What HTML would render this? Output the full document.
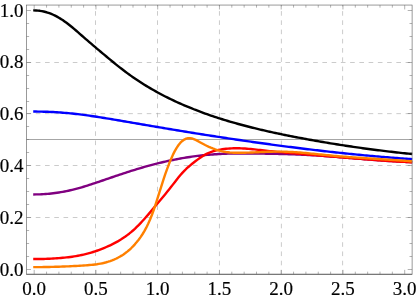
<!DOCTYPE html>
<html><head><meta charset="utf-8"><title>plot</title>
<style>
html,body{margin:0;padding:0;background:#fff;}
body{width:416px;height:299px;overflow:hidden;}
svg{display:block;position:absolute;left:0;top:0;will-change:transform;}
text{font-family:"Liberation Serif",serif;font-size:19.5px;fill:#000;stroke:#000;stroke-width:0.18px;}
</style></head><body>
<svg width="416" height="299" viewBox="0 0 416 299">
<rect width="416" height="299" fill="#ffffff"/>
<line x1="95.5" y1="5.05" x2="95.5" y2="274.27" stroke="#a8a8a8" stroke-width="0.6" stroke-dasharray="4.6225 4.6225" stroke-dashoffset="3.2"/>
<line x1="157.5" y1="5.05" x2="157.5" y2="274.27" stroke="#a8a8a8" stroke-width="0.6" stroke-dasharray="4.6225 4.6225" stroke-dashoffset="3.2"/>
<line x1="219.45" y1="5.05" x2="219.45" y2="274.27" stroke="#a8a8a8" stroke-width="0.6" stroke-dasharray="4.6225 4.6225" stroke-dashoffset="3.2"/>
<line x1="281.4" y1="5.05" x2="281.4" y2="274.27" stroke="#a8a8a8" stroke-width="0.6" stroke-dasharray="4.6225 4.6225" stroke-dashoffset="3.2"/>
<line x1="342.6" y1="5.05" x2="342.6" y2="274.27" stroke="#a8a8a8" stroke-width="0.6" stroke-dasharray="4.6225 4.6225" stroke-dashoffset="3.2"/>
<line x1="26.55" y1="217.5" x2="412.1" y2="217.5" stroke="#a8a8a8" stroke-width="0.6" stroke-dasharray="4.6225 4.6225"/>
<line x1="26.55" y1="165.5" x2="412.1" y2="165.5" stroke="#a8a8a8" stroke-width="0.6" stroke-dasharray="4.6225 4.6225"/>
<line x1="26.55" y1="113.65" x2="412.1" y2="113.65" stroke="#a8a8a8" stroke-width="0.6" stroke-dasharray="4.6225 4.6225"/>
<line x1="26.55" y1="62.5" x2="412.1" y2="62.5" stroke="#a8a8a8" stroke-width="0.6" stroke-dasharray="4.6225 4.6225"/>
<line x1="26.55" y1="139.5" x2="412.1" y2="139.5" stroke="#808080" stroke-width="0.7"/>
<path d="M33.21,10.42 L36.10,10.46 L38.00,10.59 L39.90,10.81 L41.80,11.12 L43.70,11.51 L45.60,11.99 L47.50,12.55 L49.40,13.21 L51.30,13.95 L53.19,14.77 L55.09,15.68 L56.99,16.67 L58.89,17.74 L60.79,18.89 L62.69,20.11 L64.59,21.42 L66.49,22.79 L68.39,24.24 L70.29,25.74 L72.19,27.29 L74.09,28.88 L75.99,30.50 L77.89,32.15 L79.79,33.81 L81.69,35.48 L83.59,37.15 L85.49,38.80 L87.39,40.45 L89.28,42.08 L91.18,43.71 L93.08,45.33 L94.98,46.94 L96.88,48.55 L98.78,50.15 L100.68,51.74 L102.58,53.34 L104.48,54.93 L106.38,56.52 L108.28,58.09 L110.18,59.67 L112.08,61.23 L113.98,62.78 L115.88,64.31 L117.78,65.83 L119.68,67.33 L121.58,68.81 L123.48,70.27 L125.38,71.71 L127.27,73.12 L129.17,74.51 L131.07,75.86 L132.97,77.20 L134.87,78.51 L136.77,79.79 L138.67,81.05 L140.57,82.29 L142.47,83.50 L144.37,84.69 L146.27,85.86 L148.17,87.01 L150.07,88.14 L151.97,89.24 L153.87,90.33 L155.77,91.40 L157.67,92.45 L159.57,93.48 L161.47,94.49 L163.36,95.48 L165.26,96.46 L167.16,97.42 L169.06,98.36 L170.96,99.29 L172.86,100.20 L174.76,101.09 L176.66,101.97 L178.56,102.83 L180.46,103.68 L182.36,104.52 L184.26,105.34 L186.16,106.14 L188.06,106.94 L189.96,107.72 L191.86,108.48 L193.76,109.24 L195.66,109.98 L197.56,110.71 L199.45,111.43 L201.35,112.13 L203.25,112.83 L205.15,113.51 L207.05,114.19 L208.95,114.85 L210.85,115.51 L212.75,116.15 L214.65,116.79 L216.55,117.41 L218.45,118.03 L220.35,118.64 L222.25,119.23 L224.15,119.82 L226.05,120.41 L227.95,120.98 L229.85,121.54 L231.75,122.10 L233.65,122.65 L235.54,123.19 L237.44,123.72 L239.34,124.24 L241.24,124.76 L243.14,125.27 L245.04,125.77 L246.94,126.27 L248.84,126.76 L250.74,127.24 L252.64,127.72 L254.54,128.18 L256.44,128.65 L258.34,129.10 L260.24,129.56 L262.14,130.00 L264.04,130.44 L265.94,130.88 L267.84,131.30 L269.74,131.73 L271.63,132.15 L273.53,132.56 L275.43,132.97 L277.33,133.38 L279.23,133.78 L281.13,134.17 L283.03,134.56 L284.93,134.95 L286.83,135.34 L288.73,135.72 L290.63,136.10 L292.53,136.47 L294.43,136.84 L296.33,137.21 L298.23,137.57 L300.13,137.93 L302.03,138.29 L303.93,138.65 L305.83,139.00 L307.73,139.35 L309.62,139.70 L311.52,140.04 L313.42,140.38 L315.32,140.72 L317.22,141.05 L319.12,141.38 L321.02,141.71 L322.92,142.04 L324.82,142.36 L326.72,142.68 L328.62,143.00 L330.52,143.31 L332.42,143.62 L334.32,143.93 L336.22,144.23 L338.12,144.53 L340.02,144.83 L341.92,145.13 L343.82,145.42 L345.71,145.71 L347.61,146.00 L349.51,146.28 L351.41,146.56 L353.31,146.84 L355.21,147.12 L357.11,147.39 L359.01,147.66 L360.91,147.92 L362.81,148.19 L364.71,148.45 L366.61,148.71 L368.51,148.96 L370.41,149.21 L372.31,149.46 L374.21,149.71 L376.11,149.95 L378.01,150.19 L379.91,150.43 L381.80,150.67 L383.70,150.90 L385.60,151.13 L387.50,151.36 L389.40,151.58 L391.30,151.80 L393.20,152.02 L395.10,152.23 L397.00,152.45 L398.90,152.66 L400.80,152.86 L402.70,153.07 L404.60,153.27 L406.50,153.47 L408.40,153.67 L410.30,153.86 L412.20,154.05" fill="none" stroke="#000000" stroke-width="2.4" stroke-linejoin="round"/>
<path d="M33.21,111.57 L36.10,111.57 L38.00,111.59 L39.90,111.61 L41.80,111.65 L43.70,111.69 L45.60,111.75 L47.50,111.81 L49.40,111.89 L51.30,111.97 L53.19,112.06 L55.09,112.17 L56.99,112.28 L58.89,112.40 L60.79,112.54 L62.69,112.68 L64.59,112.83 L66.49,113.00 L68.39,113.17 L70.29,113.35 L72.19,113.55 L74.09,113.75 L75.99,113.96 L77.89,114.18 L79.79,114.41 L81.69,114.65 L83.59,114.89 L85.49,115.14 L87.39,115.40 L89.28,115.67 L91.18,115.94 L93.08,116.22 L94.98,116.51 L96.88,116.80 L98.78,117.09 L100.68,117.39 L102.58,117.69 L104.48,118.00 L106.38,118.31 L108.28,118.62 L110.18,118.94 L112.08,119.26 L113.98,119.58 L115.88,119.90 L117.78,120.22 L119.68,120.55 L121.58,120.87 L123.48,121.20 L125.38,121.52 L127.27,121.85 L129.17,122.17 L131.07,122.50 L132.97,122.82 L134.87,123.15 L136.77,123.47 L138.67,123.80 L140.57,124.12 L142.47,124.45 L144.37,124.77 L146.27,125.10 L148.17,125.42 L150.07,125.74 L151.97,126.07 L153.87,126.39 L155.77,126.71 L157.67,127.03 L159.57,127.36 L161.47,127.68 L163.36,128.00 L165.26,128.32 L167.16,128.64 L169.06,128.95 L170.96,129.27 L172.86,129.59 L174.76,129.90 L176.66,130.22 L178.56,130.53 L180.46,130.85 L182.36,131.16 L184.26,131.47 L186.16,131.78 L188.06,132.09 L189.96,132.40 L191.86,132.70 L193.76,133.01 L195.66,133.32 L197.56,133.62 L199.45,133.92 L201.35,134.22 L203.25,134.52 L205.15,134.82 L207.05,135.12 L208.95,135.42 L210.85,135.72 L212.75,136.01 L214.65,136.31 L216.55,136.60 L218.45,136.89 L220.35,137.18 L222.25,137.47 L224.15,137.76 L226.05,138.05 L227.95,138.33 L229.85,138.62 L231.75,138.90 L233.65,139.18 L235.54,139.46 L237.44,139.74 L239.34,140.02 L241.24,140.30 L243.14,140.58 L245.04,140.85 L246.94,141.12 L248.84,141.40 L250.74,141.67 L252.64,141.94 L254.54,142.21 L256.44,142.47 L258.34,142.74 L260.24,143.01 L262.14,143.27 L264.04,143.53 L265.94,143.79 L267.84,144.05 L269.74,144.31 L271.63,144.57 L273.53,144.82 L275.43,145.08 L277.33,145.33 L279.23,145.58 L281.13,145.83 L283.03,146.08 L284.93,146.33 L286.83,146.58 L288.73,146.82 L290.63,147.06 L292.53,147.31 L294.43,147.55 L296.33,147.78 L298.23,148.02 L300.13,148.26 L302.03,148.49 L303.93,148.73 L305.83,148.96 L307.73,149.19 L309.62,149.42 L311.52,149.64 L313.42,149.87 L315.32,150.09 L317.22,150.31 L319.12,150.53 L321.02,150.75 L322.92,150.97 L324.82,151.19 L326.72,151.40 L328.62,151.61 L330.52,151.82 L332.42,152.03 L334.32,152.24 L336.22,152.45 L338.12,152.65 L340.02,152.85 L341.92,153.05 L343.82,153.25 L345.71,153.45 L347.61,153.64 L349.51,153.84 L351.41,154.03 L353.31,154.22 L355.21,154.40 L357.11,154.59 L359.01,154.78 L360.91,154.96 L362.81,155.14 L364.71,155.32 L366.61,155.49 L368.51,155.67 L370.41,155.84 L372.31,156.01 L374.21,156.18 L376.11,156.35 L378.01,156.51 L379.91,156.67 L381.80,156.84 L383.70,156.99 L385.60,157.15 L387.50,157.31 L389.40,157.46 L391.30,157.61 L393.20,157.76 L395.10,157.90 L397.00,158.05 L398.90,158.19 L400.80,158.33 L402.70,158.47 L404.60,158.60 L406.50,158.74 L408.40,158.87 L410.30,159.00 L412.20,159.13" fill="none" stroke="#0000ff" stroke-width="2.4" stroke-linejoin="round"/>
<path d="M33.21,194.43 L36.10,194.42 L38.00,194.39 L39.90,194.33 L41.80,194.25 L43.70,194.14 L45.60,194.02 L47.50,193.87 L49.40,193.70 L51.30,193.50 L53.19,193.28 L55.09,193.04 L56.99,192.78 L58.89,192.49 L60.79,192.18 L62.69,191.85 L64.59,191.49 L66.49,191.11 L68.39,190.71 L70.29,190.29 L72.19,189.84 L74.09,189.37 L75.99,188.88 L77.89,188.37 L79.79,187.84 L81.69,187.29 L83.59,186.73 L85.49,186.15 L87.39,185.56 L89.28,184.96 L91.18,184.34 L93.08,183.72 L94.98,183.09 L96.88,182.45 L98.78,181.81 L100.68,181.16 L102.58,180.51 L104.48,179.85 L106.38,179.20 L108.28,178.55 L110.18,177.90 L112.08,177.25 L113.98,176.60 L115.88,175.96 L117.78,175.32 L119.68,174.69 L121.58,174.06 L123.48,173.43 L125.38,172.81 L127.27,172.19 L129.17,171.58 L131.07,170.98 L132.97,170.38 L134.87,169.79 L136.77,169.21 L138.67,168.64 L140.57,168.07 L142.47,167.52 L144.37,166.97 L146.27,166.43 L148.17,165.90 L150.07,165.38 L151.97,164.87 L153.87,164.37 L155.77,163.88 L157.67,163.40 L159.57,162.93 L161.47,162.47 L163.36,162.03 L165.26,161.59 L167.16,161.16 L169.06,160.75 L170.96,160.34 L172.86,159.95 L174.76,159.57 L176.66,159.20 L178.56,158.84 L180.46,158.50 L182.36,158.16 L184.26,157.84 L186.16,157.53 L188.06,157.23 L189.96,156.95 L191.86,156.67 L193.76,156.41 L195.66,156.16 L197.56,155.92 L199.45,155.70 L201.35,155.48 L203.25,155.28 L205.15,155.08 L207.05,154.90 L208.95,154.74 L210.85,154.58 L212.75,154.43 L214.65,154.30 L216.55,154.18 L218.45,154.06 L220.35,153.96 L222.25,153.88 L224.15,153.80 L226.05,153.73 L227.95,153.67 L229.85,153.62 L231.75,153.58 L233.65,153.54 L235.54,153.52 L237.44,153.50 L239.34,153.49 L241.24,153.48 L243.14,153.48 L245.04,153.48 L246.94,153.49 L248.84,153.50 L250.74,153.51 L252.64,153.53 L254.54,153.55 L256.44,153.57 L258.34,153.59 L260.24,153.61 L262.14,153.64 L264.04,153.66 L265.94,153.69 L267.84,153.72 L269.74,153.75 L271.63,153.78 L273.53,153.82 L275.43,153.85 L277.33,153.89 L279.23,153.94 L281.13,153.98 L283.03,154.03 L284.93,154.08 L286.83,154.14 L288.73,154.19 L290.63,154.26 L292.53,154.32 L294.43,154.39 L296.33,154.46 L298.23,154.54 L300.13,154.62 L302.03,154.70 L303.93,154.79 L305.83,154.89 L307.73,154.98 L309.62,155.09 L311.52,155.20 L313.42,155.31 L315.32,155.42 L317.22,155.54 L319.12,155.66 L321.02,155.79 L322.92,155.92 L324.82,156.05 L326.72,156.19 L328.62,156.33 L330.52,156.47 L332.42,156.61 L334.32,156.75 L336.22,156.90 L338.12,157.05 L340.02,157.20 L341.92,157.35 L343.82,157.50 L345.71,157.66 L347.61,157.81 L349.51,157.97 L351.41,158.12 L353.31,158.28 L355.21,158.44 L357.11,158.59 L359.01,158.75 L360.91,158.90 L362.81,159.06 L364.71,159.21 L366.61,159.36 L368.51,159.52 L370.41,159.67 L372.31,159.81 L374.21,159.96 L376.11,160.11 L378.01,160.25 L379.91,160.39 L381.80,160.53 L383.70,160.66 L385.60,160.80 L387.50,160.93 L389.40,161.05 L391.30,161.17 L393.20,161.29 L395.10,161.41 L397.00,161.52 L398.90,161.63 L400.80,161.73 L402.70,161.83 L404.60,161.92 L406.50,162.01 L408.40,162.10 L410.30,162.17 L412.20,162.25" fill="none" stroke="#800080" stroke-width="2.4" stroke-linejoin="round"/>
<path d="M33.21,259.07 L36.10,259.07 L38.00,259.05 L39.90,259.02 L41.80,258.98 L43.70,258.93 L45.60,258.87 L47.50,258.79 L49.40,258.71 L51.30,258.61 L53.19,258.50 L55.09,258.38 L56.99,258.25 L58.89,258.11 L60.79,257.95 L62.69,257.78 L64.59,257.60 L66.49,257.40 L68.39,257.19 L70.29,256.95 L72.19,256.69 L74.09,256.41 L75.99,256.10 L77.89,255.77 L79.79,255.41 L81.69,255.02 L83.59,254.60 L85.49,254.15 L87.39,253.67 L89.28,253.15 L91.18,252.60 L93.08,252.01 L94.98,251.40 L96.88,250.75 L98.78,250.07 L100.68,249.35 L102.58,248.60 L104.48,247.82 L106.38,247.01 L108.28,246.17 L110.18,245.29 L112.08,244.37 L113.98,243.41 L115.88,242.41 L117.78,241.36 L119.68,240.24 L121.58,239.07 L123.48,237.83 L125.38,236.53 L127.27,235.14 L129.17,233.68 L131.07,232.13 L132.97,230.50 L134.87,228.77 L136.77,226.95 L138.67,225.06 L140.57,223.09 L142.47,221.05 L144.37,218.95 L146.27,216.80 L148.17,214.61 L150.07,212.38 L151.97,210.12 L153.87,207.85 L155.77,205.57 L157.67,203.29 L159.57,201.02 L161.47,198.76 L163.36,196.48 L165.26,194.19 L167.16,191.86 L169.06,189.50 L170.96,187.08 L172.86,184.62 L174.76,182.16 L176.66,179.72 L178.56,177.33 L180.46,175.04 L182.36,172.88 L184.26,170.86 L186.16,168.98 L188.06,167.22 L189.96,165.57 L191.86,164.00 L193.76,162.49 L195.66,161.03 L197.56,159.61 L199.45,158.25 L201.35,156.96 L203.25,155.75 L205.15,154.65 L207.05,153.66 L208.95,152.79 L210.85,152.04 L212.75,151.39 L214.65,150.84 L216.55,150.36 L218.45,149.95 L220.35,149.59 L222.25,149.28 L224.15,149.01 L226.05,148.79 L227.95,148.60 L229.85,148.46 L231.75,148.35 L233.65,148.28 L235.54,148.25 L237.44,148.25 L239.34,148.29 L241.24,148.35 L243.14,148.44 L245.04,148.56 L246.94,148.70 L248.84,148.86 L250.74,149.04 L252.64,149.23 L254.54,149.43 L256.44,149.63 L258.34,149.84 L260.24,150.06 L262.14,150.27 L264.04,150.48 L265.94,150.68 L267.84,150.88 L269.74,151.08 L271.63,151.27 L273.53,151.46 L275.43,151.64 L277.33,151.82 L279.23,152.00 L281.13,152.18 L283.03,152.35 L284.93,152.52 L286.83,152.69 L288.73,152.86 L290.63,153.03 L292.53,153.20 L294.43,153.36 L296.33,153.53 L298.23,153.70 L300.13,153.86 L302.03,154.03 L303.93,154.19 L305.83,154.35 L307.73,154.52 L309.62,154.68 L311.52,154.84 L313.42,155.00 L315.32,155.17 L317.22,155.33 L319.12,155.49 L321.02,155.65 L322.92,155.81 L324.82,155.97 L326.72,156.13 L328.62,156.28 L330.52,156.44 L332.42,156.60 L334.32,156.76 L336.22,156.91 L338.12,157.07 L340.02,157.23 L341.92,157.38 L343.82,157.54 L345.71,157.69 L347.61,157.85 L349.51,158.00 L351.41,158.15 L353.31,158.31 L355.21,158.46 L357.11,158.61 L359.01,158.76 L360.91,158.91 L362.81,159.06 L364.71,159.20 L366.61,159.35 L368.51,159.49 L370.41,159.64 L372.31,159.78 L374.21,159.92 L376.11,160.06 L378.01,160.19 L379.91,160.33 L381.80,160.46 L383.70,160.59 L385.60,160.72 L387.50,160.85 L389.40,160.98 L391.30,161.10 L393.20,161.22 L395.10,161.34 L397.00,161.46 L398.90,161.57 L400.80,161.68 L402.70,161.79 L404.60,161.90 L406.50,162.00 L408.40,162.10 L410.30,162.20 L412.20,162.30" fill="none" stroke="#ff0000" stroke-width="2.4" stroke-linejoin="round"/>
<path d="M33.21,267.11 L36.10,267.11 L38.00,267.11 L39.90,267.09 L41.80,267.08 L43.70,267.05 L45.60,267.03 L47.50,267.00 L49.40,266.96 L51.30,266.92 L53.19,266.87 L55.09,266.82 L56.99,266.77 L58.89,266.71 L60.79,266.64 L62.69,266.57 L64.59,266.50 L66.49,266.42 L68.39,266.34 L70.29,266.25 L72.19,266.15 L74.09,266.06 L75.99,265.95 L77.89,265.84 L79.79,265.73 L81.69,265.61 L83.59,265.49 L85.49,265.36 L87.39,265.23 L89.28,265.07 L91.18,264.90 L93.08,264.71 L94.98,264.48 L96.88,264.23 L98.78,263.93 L100.68,263.59 L102.58,263.21 L104.48,262.77 L106.38,262.27 L108.28,261.71 L110.18,261.09 L112.08,260.39 L113.98,259.61 L115.88,258.76 L117.78,257.81 L119.68,256.78 L121.58,255.65 L123.48,254.42 L125.38,253.07 L127.27,251.61 L129.17,250.01 L131.07,248.27 L132.97,246.37 L134.87,244.32 L136.77,242.09 L138.67,239.69 L140.57,237.09 L142.47,234.25 L144.37,231.14 L146.27,227.68 L148.17,223.84 L150.07,219.56 L151.97,214.78 L153.87,209.50 L155.77,203.85 L157.67,197.94 L159.57,191.90 L161.47,185.85 L163.36,179.92 L165.26,174.24 L167.16,168.85 L169.06,163.82 L170.96,159.16 L172.86,154.91 L174.76,151.12 L176.66,147.82 L178.56,145.03 L180.46,142.73 L182.36,140.92 L184.26,139.57 L186.16,138.68 L188.06,138.21 L189.96,138.16 L191.86,138.47 L193.76,139.07 L195.66,139.90 L197.56,140.88 L199.45,141.94 L201.35,143.01 L203.25,144.04 L205.15,145.04 L207.05,145.98 L208.95,146.87 L210.85,147.70 L212.75,148.48 L214.65,149.19 L216.55,149.84 L218.45,150.41 L220.35,150.92 L222.25,151.35 L224.15,151.71 L226.05,152.02 L227.95,152.26 L229.85,152.46 L231.75,152.60 L233.65,152.70 L235.54,152.77 L237.44,152.80 L239.34,152.81 L241.24,152.79 L243.14,152.76 L245.04,152.71 L246.94,152.65 L248.84,152.59 L250.74,152.52 L252.64,152.44 L254.54,152.36 L256.44,152.28 L258.34,152.20 L260.24,152.12 L262.14,152.04 L264.04,151.96 L265.94,151.88 L267.84,151.82 L269.74,151.76 L271.63,151.71 L273.53,151.67 L275.43,151.64 L277.33,151.62 L279.23,151.62 L281.13,151.63 L283.03,151.66 L284.93,151.70 L286.83,151.77 L288.73,151.84 L290.63,151.93 L292.53,152.03 L294.43,152.15 L296.33,152.27 L298.23,152.41 L300.13,152.55 L302.03,152.71 L303.93,152.87 L305.83,153.04 L307.73,153.21 L309.62,153.39 L311.52,153.58 L313.42,153.77 L315.32,153.96 L317.22,154.15 L319.12,154.35 L321.02,154.54 L322.92,154.73 L324.82,154.93 L326.72,155.12 L328.62,155.30 L330.52,155.49 L332.42,155.67 L334.32,155.84 L336.22,156.01 L338.12,156.18 L340.02,156.34 L341.92,156.49 L343.82,156.65 L345.71,156.80 L347.61,156.95 L349.51,157.09 L351.41,157.23 L353.31,157.37 L355.21,157.51 L357.11,157.64 L359.01,157.77 L360.91,157.90 L362.81,158.03 L364.71,158.15 L366.61,158.28 L368.51,158.40 L370.41,158.52 L372.31,158.64 L374.21,158.76 L376.11,158.88 L378.01,159.00 L379.91,159.12 L381.80,159.24 L383.70,159.36 L385.60,159.48 L387.50,159.61 L389.40,159.73 L391.30,159.85 L393.20,159.97 L395.10,160.10 L397.00,160.23 L398.90,160.36 L400.80,160.49 L402.70,160.62 L404.60,160.75 L406.50,160.89 L408.40,161.03 L410.30,161.18 L412.20,161.32" fill="none" stroke="#ff8000" stroke-width="2.4" stroke-linejoin="round"/>
<rect x="26.55" y="5.05" width="385.55" height="269.22" fill="none" stroke="#666666" stroke-width="0.66"/>
<line x1="26.55" y1="274.27" x2="412.1" y2="274.27" stroke="#666666" stroke-width="0.9"/>
<path d="M34.20,274.27v-4.4M34.20,5.05v4.4M46.55,274.27v-2.6M46.55,5.05v2.6M58.90,274.27v-2.6M58.90,5.05v2.6M71.25,274.27v-2.6M71.25,5.05v2.6M83.60,274.27v-2.6M83.60,5.05v2.6M95.95,274.27v-4.4M95.95,5.05v4.4M108.30,274.27v-2.6M108.30,5.05v2.6M120.65,274.27v-2.6M120.65,5.05v2.6M133.00,274.27v-2.6M133.00,5.05v2.6M145.35,274.27v-2.6M145.35,5.05v2.6M157.70,274.27v-4.4M157.70,5.05v4.4M170.05,274.27v-2.6M170.05,5.05v2.6M182.40,274.27v-2.6M182.40,5.05v2.6M194.75,274.27v-2.6M194.75,5.05v2.6M207.10,274.27v-2.6M207.10,5.05v2.6M219.45,274.27v-4.4M219.45,5.05v4.4M231.80,274.27v-2.6M231.80,5.05v2.6M244.15,274.27v-2.6M244.15,5.05v2.6M256.50,274.27v-2.6M256.50,5.05v2.6M268.85,274.27v-2.6M268.85,5.05v2.6M281.20,274.27v-4.4M281.20,5.05v4.4M293.55,274.27v-2.6M293.55,5.05v2.6M305.90,274.27v-2.6M305.90,5.05v2.6M318.25,274.27v-2.6M318.25,5.05v2.6M330.60,274.27v-2.6M330.60,5.05v2.6M342.95,274.27v-4.4M342.95,5.05v4.4M355.30,274.27v-2.6M355.30,5.05v2.6M367.65,274.27v-2.6M367.65,5.05v2.6M380.00,274.27v-2.6M380.00,5.05v2.6M392.35,274.27v-2.6M392.35,5.05v2.6M404.70,274.27v-4.4M404.70,5.05v4.4M26.55,269.50h4.4M412.1,269.50h-4.4M26.55,256.50h2.6M412.1,256.50h-2.6M26.55,243.50h2.6M412.1,243.50h-2.6M26.55,230.50h2.6M412.1,230.50h-2.6M26.55,217.50h4.4M412.1,217.50h-4.4M26.55,204.50h2.6M412.1,204.50h-2.6M26.55,191.50h2.6M412.1,191.50h-2.6M26.55,178.50h2.6M412.1,178.50h-2.6M26.55,165.50h4.4M412.1,165.50h-4.4M26.55,152.50h2.6M412.1,152.50h-2.6M26.55,139.50h2.6M412.1,139.50h-2.6M26.55,126.50h2.6M412.1,126.50h-2.6M26.55,113.50h4.4M412.1,113.50h-4.4M26.55,101.50h2.6M412.1,101.50h-2.6M26.55,88.50h2.6M412.1,88.50h-2.6M26.55,75.50h2.6M412.1,75.50h-2.6M26.55,62.50h4.4M412.1,62.50h-4.4M26.55,49.50h2.6M412.1,49.50h-2.6M26.55,36.50h2.6M412.1,36.50h-2.6M26.55,23.50h2.6M412.1,23.50h-2.6M26.55,10.50h4.4M412.1,10.50h-4.4" stroke="#666666" stroke-width="0.5" fill="none"/>
<text transform="translate(34.20,294.7) scale(0.975,1)" text-anchor="middle">0.0</text>
<text transform="translate(95.95,294.7) scale(0.975,1)" text-anchor="middle">0.5</text>
<text transform="translate(157.70,294.7) scale(0.975,1)" text-anchor="middle">1.0</text>
<text transform="translate(219.45,294.7) scale(0.975,1)" text-anchor="middle">1.5</text>
<text transform="translate(281.20,294.7) scale(0.975,1)" text-anchor="middle">2.0</text>
<text transform="translate(342.95,294.7) scale(0.975,1)" text-anchor="middle">2.5</text>
<text transform="translate(404.70,294.7) scale(0.975,1)" text-anchor="middle">3.0</text>
<text transform="translate(23.6,275.52) scale(0.975,1)" text-anchor="end">0.0</text>
<text transform="translate(23.6,223.72) scale(0.975,1)" text-anchor="end">0.2</text>
<text transform="translate(23.6,171.92) scale(0.975,1)" text-anchor="end">0.4</text>
<text transform="translate(23.6,120.13) scale(0.975,1)" text-anchor="end">0.6</text>
<text transform="translate(23.6,68.33) scale(0.975,1)" text-anchor="end">0.8</text>
<text transform="translate(23.6,16.53) scale(0.975,1)" text-anchor="end">1.0</text>
</svg>
</body></html>
